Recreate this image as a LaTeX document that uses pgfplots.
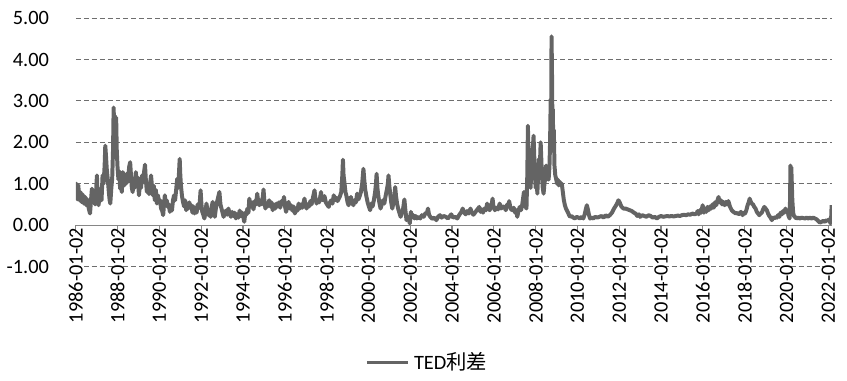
\documentclass[border=0pt]{standalone}
\usepackage{pgfplots}
\usepackage{pgfplotstable}
\pgfplotsset{compat=1.18}
\usepackage{fontspec}
\setmainfont{Carlito}
\newfontfamily\cjk{Noto Sans CJK SC}
\definecolor{serie}{RGB}{100,100,100}
\definecolor{axisgray}{RGB}{134,134,134}
\definecolor{gridgray}{RGB}{110,110,110}

\pgfplotstableread{
year ted
1986.00 0.72
1986.03 1.00
1986.07 0.62
1986.12 0.96
1986.17 0.60
1986.22 0.80
1986.27 0.56
1986.33 0.74
1986.38 0.52
1986.45 0.68
1986.50 0.48
1986.56 0.62
1986.62 0.40
1986.68 0.28
1986.72 0.55
1986.77 0.88
1986.82 0.58
1986.87 0.70
1986.92 0.50
1986.97 0.80
1987.01 1.20
1987.05 0.60
1987.09 0.48
1987.13 0.70
1987.18 0.88
1987.23 0.60
1987.28 1.20
1987.33 1.00
1987.38 1.45
1987.41 1.92
1987.44 1.70
1987.48 1.36
1987.53 1.10
1987.58 0.80
1987.62 0.60
1987.65 0.52
1987.70 0.90
1987.74 1.12
1987.78 1.80
1987.81 2.84
1987.84 2.20
1987.87 2.64
1987.90 2.00
1987.93 2.60
1987.96 1.80
1988.00 1.36
1988.04 1.10
1988.08 1.30
1988.12 0.88
1988.16 1.05
1988.20 0.80
1988.25 1.28
1988.30 0.95
1988.35 1.15
1988.40 1.00
1988.45 1.25
1988.50 1.05
1988.55 1.40
1988.60 1.52
1988.64 1.20
1988.68 0.90
1988.72 0.80
1988.77 1.12
1988.82 0.90
1988.87 1.28
1988.92 1.00
1988.97 1.15
1989.02 0.72
1989.07 1.00
1989.12 0.90
1989.17 1.20
1989.22 1.05
1989.27 1.30
1989.31 1.46
1989.35 1.10
1989.40 0.80
1989.45 1.00
1989.50 0.75
1989.55 1.00
1989.60 1.20
1989.64 0.95
1989.68 0.72
1989.73 0.95
1989.78 0.60
1989.83 0.85
1989.88 0.52
1989.93 0.72
1989.98 0.55
1990.03 0.60
1990.08 0.40
1990.13 0.35
1990.18 0.24
1990.22 0.50
1990.26 0.72
1990.30 0.55
1990.35 0.60
1990.40 0.44
1990.45 0.50
1990.50 0.32
1990.55 0.45
1990.60 0.35
1990.65 0.60
1990.70 0.72
1990.75 0.60
1990.80 0.85
1990.85 1.12
1990.90 0.90
1990.94 1.30
1990.97 1.60
1991.00 1.20
1991.03 0.96
1991.08 0.70
1991.13 0.56
1991.18 0.45
1991.23 0.60
1991.28 0.36
1991.33 0.50
1991.38 0.40
1991.43 0.55
1991.48 0.42
1991.53 0.48
1991.58 0.30
1991.63 0.45
1991.68 0.28
1991.73 0.40
1991.78 0.30
1991.83 0.50
1991.88 0.40
1991.93 0.55
1991.97 0.84
1992.01 0.50
1992.05 0.32
1992.10 0.25
1992.15 0.16
1992.20 0.30
1992.25 0.52
1992.30 0.35
1992.35 0.24
1992.40 0.30
1992.45 0.20
1992.50 0.45
1992.55 0.56
1992.60 0.35
1992.65 0.20
1992.70 0.40
1992.75 0.55
1992.80 0.65
1992.87 0.80
1992.92 0.50
1992.97 0.40
1993.02 0.30
1993.07 0.20
1993.12 0.28
1993.18 0.35
1993.24 0.25
1993.30 0.40
1993.36 0.28
1993.42 0.20
1993.48 0.32
1993.54 0.22
1993.60 0.30
1993.66 0.16
1993.72 0.26
1993.78 0.18
1993.84 0.35
1993.90 0.22
1993.96 0.30
1994.01 0.20
1994.06 0.08
1994.11 0.30
1994.16 0.25
1994.21 0.40
1994.26 0.30
1994.30 0.64
1994.35 0.50
1994.40 0.44
1994.45 0.55
1994.50 0.38
1994.56 0.58
1994.62 0.50
1994.68 0.76
1994.73 0.55
1994.78 0.48
1994.84 0.60
1994.90 0.50
1994.95 0.70
1994.98 0.86
1995.02 0.60
1995.07 0.40
1995.12 0.52
1995.18 0.45
1995.25 0.60
1995.30 0.45
1995.36 0.55
1995.42 0.36
1995.48 0.50
1995.54 0.40
1995.60 0.52
1995.66 0.45
1995.72 0.55
1995.78 0.42
1995.84 0.58
1995.90 0.50
1995.96 0.68
1996.01 0.45
1996.06 0.32
1996.12 0.45
1996.18 0.56
1996.24 0.40
1996.30 0.48
1996.36 0.35
1996.42 0.45
1996.48 0.28
1996.54 0.40
1996.60 0.35
1996.66 0.52
1996.72 0.40
1996.78 0.50
1996.84 0.42
1996.90 0.55
1996.94 0.64
1996.99 0.48
1997.04 0.40
1997.10 0.50
1997.16 0.45
1997.22 0.58
1997.28 0.50
1997.34 0.65
1997.42 0.84
1997.47 0.62
1997.52 0.52
1997.58 0.60
1997.64 0.55
1997.70 0.70
1997.73 0.80
1997.78 0.62
1997.84 0.60
1997.90 0.70
1997.96 0.55
1998.02 0.50
1998.10 0.44
1998.16 0.55
1998.22 0.60
1998.28 0.52
1998.34 0.72
1998.40 0.60
1998.46 0.66
1998.52 0.58
1998.58 0.64
1998.64 0.70
1998.70 0.80
1998.75 1.20
1998.78 1.58
1998.81 1.20
1998.85 1.04
1998.90 0.80
1998.95 0.70
1999.00 0.55
1999.05 0.48
1999.10 0.58
1999.16 0.68
1999.22 0.55
1999.28 0.48
1999.34 0.60
1999.40 0.55
1999.46 0.76
1999.52 0.62
1999.58 0.70
1999.64 0.80
1999.70 1.00
1999.76 1.36
1999.80 1.10
1999.84 0.88
1999.90 0.70
1999.96 0.55
2000.02 0.45
2000.08 0.36
2000.14 0.52
2000.20 0.45
2000.26 0.60
2000.32 0.80
2000.36 1.00
2000.39 1.24
2000.43 0.90
2000.47 0.72
2000.52 0.55
2000.58 0.40
2000.64 0.50
2000.70 0.60
2000.76 0.52
2000.82 0.70
2000.88 0.85
2000.93 1.00
2000.96 1.20
2001.00 0.95
2001.04 0.76
2001.09 0.55
2001.14 0.40
2001.19 0.52
2001.24 0.70
2001.28 0.92
2001.32 0.70
2001.37 0.52
2001.42 0.40
2001.48 0.30
2001.54 0.20
2001.60 0.30
2001.66 0.40
2001.72 0.62
2001.76 0.40
2001.82 0.12
2001.90 0.20
2001.98 0.04
2002.03 0.32
2002.08 0.20
2002.14 0.24
2002.20 0.16
2002.26 0.22
2002.32 0.16
2002.40 0.20
2002.48 0.16
2002.56 0.24
2002.64 0.20
2002.72 0.28
2002.80 0.30
2002.85 0.40
2002.90 0.25
2002.96 0.20
2003.05 0.15
2003.15 0.18
2003.25 0.12
2003.33 0.20
2003.42 0.24
2003.50 0.18
2003.60 0.22
2003.70 0.20
2003.80 0.16
2003.90 0.22
2003.96 0.26
2004.05 0.18
2004.15 0.20
2004.25 0.16
2004.35 0.25
2004.45 0.32
2004.51 0.40
2004.58 0.30
2004.65 0.26
2004.72 0.34
2004.80 0.28
2004.88 0.40
2004.95 0.30
2005.02 0.25
2005.10 0.30
2005.18 0.36
2005.25 0.40
2005.30 0.44
2005.36 0.32
2005.42 0.38
2005.48 0.30
2005.55 0.40
2005.62 0.36
2005.68 0.52
2005.74 0.40
2005.80 0.36
2005.86 0.45
2005.91 0.55
2005.94 0.64
2005.98 0.45
2006.05 0.36
2006.12 0.42
2006.20 0.38
2006.28 0.52
2006.35 0.40
2006.42 0.45
2006.50 0.44
2006.57 0.36
2006.64 0.50
2006.70 0.45
2006.73 0.58
2006.80 0.40
2006.88 0.36
2006.95 0.42
2007.02 0.30
2007.08 0.36
2007.12 0.20
2007.18 0.35
2007.24 0.44
2007.30 0.36
2007.36 0.50
2007.40 0.65
2007.44 0.80
2007.48 0.60
2007.52 0.45
2007.56 0.40
2007.60 1.20
2007.63 2.40
2007.66 1.60
2007.69 1.84
2007.72 1.20
2007.76 0.90
2007.79 1.50
2007.82 1.10
2007.86 1.80
2007.90 2.16
2007.93 1.70
2007.97 1.20
2008.00 0.90
2008.04 1.30
2008.08 0.76
2008.12 1.20
2008.16 1.60
2008.20 1.40
2008.24 2.00
2008.27 1.60
2008.30 1.20
2008.34 0.90
2008.38 0.76
2008.42 1.00
2008.46 1.20
2008.50 1.44
2008.54 1.10
2008.58 1.20
2008.62 1.10
2008.66 1.40
2008.69 2.00
2008.72 3.04
2008.74 2.20
2008.76 4.56
2008.78 3.80
2008.80 2.60
2008.82 2.80
2008.84 2.10
2008.87 2.30
2008.90 1.44
2008.94 1.20
2008.98 1.12
2009.02 1.00
2009.06 1.10
2009.10 0.96
2009.15 1.05
2009.20 0.96
2009.25 1.00
2009.30 0.80
2009.35 0.60
2009.40 0.48
2009.45 0.40
2009.50 0.35
2009.55 0.30
2009.60 0.24
2009.65 0.20
2009.72 0.22
2009.80 0.18
2009.88 0.16
2009.96 0.20
2010.05 0.18
2010.12 0.16
2010.20 0.20
2010.28 0.16
2010.34 0.25
2010.40 0.38
2010.45 0.48
2010.50 0.38
2010.55 0.25
2010.60 0.16
2010.68 0.18
2010.76 0.16
2010.85 0.20
2010.95 0.18
2011.05 0.20
2011.15 0.22
2011.25 0.18
2011.35 0.24
2011.45 0.20
2011.55 0.24
2011.65 0.30
2011.75 0.40
2011.85 0.48
2011.92 0.55
2011.96 0.60
2012.02 0.55
2012.10 0.45
2012.20 0.40
2012.30 0.40
2012.40 0.38
2012.50 0.36
2012.60 0.34
2012.70 0.30
2012.78 0.28
2012.86 0.22
2012.94 0.26
2013.00 0.20
2013.10 0.24
2013.20 0.22
2013.30 0.20
2013.40 0.24
2013.50 0.22
2013.60 0.18
2013.70 0.20
2013.80 0.16
2013.90 0.20
2014.00 0.22
2014.10 0.20
2014.20 0.21
2014.30 0.22
2014.40 0.21
2014.50 0.22
2014.60 0.21
2014.70 0.22
2014.80 0.23
2014.90 0.22
2015.00 0.24
2015.10 0.25
2015.20 0.24
2015.30 0.26
2015.40 0.25
2015.50 0.28
2015.60 0.26
2015.70 0.28
2015.75 0.34
2015.80 0.26
2015.86 0.36
2015.92 0.30
2015.99 0.48
2016.05 0.30
2016.10 0.38
2016.16 0.32
2016.22 0.44
2016.28 0.36
2016.34 0.45
2016.40 0.40
2016.46 0.50
2016.52 0.42
2016.58 0.55
2016.64 0.48
2016.70 0.60
2016.75 0.68
2016.80 0.55
2016.86 0.60
2016.92 0.50
2016.98 0.56
2017.04 0.48
2017.10 0.56
2017.16 0.50
2017.22 0.58
2017.30 0.44
2017.38 0.36
2017.46 0.32
2017.52 0.30
2017.58 0.28
2017.64 0.30
2017.70 0.26
2017.76 0.28
2017.82 0.32
2017.90 0.24
2017.96 0.30
2018.02 0.28
2018.08 0.36
2018.14 0.48
2018.20 0.56
2018.24 0.64
2018.28 0.58
2018.34 0.52
2018.40 0.50
2018.46 0.44
2018.52 0.40
2018.58 0.32
2018.64 0.28
2018.70 0.24
2018.76 0.28
2018.82 0.30
2018.88 0.38
2018.94 0.44
2019.00 0.40
2019.06 0.36
2019.12 0.28
2019.18 0.22
2019.24 0.18
2019.30 0.12
2019.36 0.18
2019.42 0.16
2019.48 0.20
2019.54 0.18
2019.60 0.24
2019.66 0.20
2019.72 0.30
2019.78 0.26
2019.84 0.34
2019.90 0.30
2019.95 0.40
2020.00 0.32
2020.05 0.35
2020.10 0.22
2020.15 0.16
2020.17 0.60
2020.19 1.44
2020.21 1.30
2020.23 1.40
2020.25 1.10
2020.28 0.60
2020.32 0.30
2020.36 0.22
2020.40 0.20
2020.48 0.16
2020.56 0.18
2020.64 0.16
2020.72 0.18
2020.80 0.17
2020.88 0.16
2020.96 0.18
2021.04 0.16
2021.12 0.18
2021.20 0.16
2021.28 0.18
2021.36 0.16
2021.44 0.14
2021.52 0.10
2021.60 0.06
2021.68 0.08
2021.76 0.10
2021.84 0.08
2021.92 0.12
2021.98 0.10
2022.04 0.14
2022.08 0.08
2022.11 0.04
2022.14 0.20
2022.16 0.48
}\tedtable

\begin{document}
\begin{tikzpicture}[x=1pt,y=1pt]
\path (0,0) rectangle (423.5,191.5);
\begin{axis}[
  at={(35.15pt,57.3pt)}, anchor=south west,
  scale only axis, width=380.7pt, height=125.05pt,
  xmin=1986, xmax=2022.17, ymin=-1, ymax=5,
  axis x line=middle, axis y line=left,
  axis line style={-},
  x axis line style={draw=axisgray, line width=0.6pt},
  y axis line style={draw=none},
  hide obscured x ticks=false,
  tick align=outside,
  major tick length=4pt,
  xtick={1986,1988,...,2022},
  xticklabels={1986-01-02,1988-01-02,1990-01-02,1992-01-02,1994-01-02,1996-01-02,1998-01-02,2000-01-02,2002-01-02,2004-01-02,2006-01-02,2008-01-02,2010-01-02,2012-01-02,2014-01-02,2016-01-02,2018-01-02,2020-01-02,2022-01-02},
  xticklabel shift=-6pt,
  x tick style={draw=axisgray, line width=0.6pt},
  x tick label style={rotate=90, anchor=east, font=\fontsize{10.25}{12}\selectfont, text=black},
  ytick={-1,0,1,2,3,4,5},
  y tick style={draw=none},
  y tick label style={font=\fontsize{10.25}{12}\selectfont, text=black, xshift=-6pt},
  yticklabel style={/pgf/number format/.cd, fixed, fixed zerofill, precision=2, assume math mode=true},
  ymajorgrids,
  grid style={draw=gridgray, line width=0.5pt, dash pattern=on 2.5pt off 1.5pt},
  legend style={at={(0.466,-0.386)}, anchor=center, draw=none, fill=none,
    font=\fontsize{10.25}{12}\selectfont, inner sep=1pt},
  legend image code/.code={\draw[#1, line width=1.6pt] (0pt,0pt) -- (21pt,0pt);},
]
\addplot[serie, line width=2pt, line join=round, no markers] table[x=year, y=ted] {\tedtable};
\addlegendentry{TED{\cjk 利差}}
\end{axis}
\end{tikzpicture}
\end{document}
